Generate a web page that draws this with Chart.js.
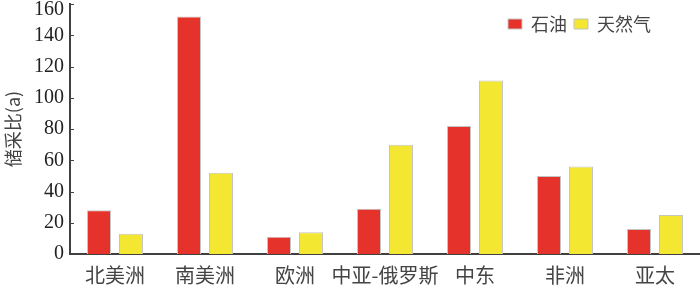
<!DOCTYPE html>
<html>
<head>
<meta charset="utf-8">
<script src="https://cdn.jsdelivr.net/npm/chart.js@4/dist/chart.umd.min.js"></script>
<style>
  body { margin: 0; background: #fff; }
  #wrap { width: 700px; height: 286px; }
</style>
</head>
<body>
<div id="wrap"><canvas id="chart" width="700" height="286"></canvas></div>
<script>
// Reserve / production ratio by region (years)
const regions = ['北美洲', '南美洲', '欧洲', '中亚-俄罗斯', '中东', '非洲', '亚太'];
const oil = [28, 152, 11, 29, 82, 50, 16];
const gas = [13, 52, 14, 70, 111, 56, 25];
const yTicks = [0, 20, 40, 60, 80, 100, 120, 140, 160];

const cjk = '"Noto Sans CJK SC", "Noto Sans", sans-serif';
const serif = '"Liberation Serif", "DejaVu Serif", serif';

// legend floats over the plot (takes no layout height), inner tick marks,
// and the top y label nudged down a bit like in the original
const axisTweaks = {
    id: 'axisTweaks',
    beforeLayout(chart) {
        const lg = chart.legend;
        if (lg && !lg._noHeight) {
            const fit = lg.fit;
            lg.fit = function () {
                fit.call(this);
                this._realHeight = this.height;
                this.height = 0;
            };
            lg._noHeight = true;
        }
    },
    afterLayout(chart) {
        const lg = chart.legend;
        const ca = chart.chartArea;
        if (lg) {
            lg.left = ca.left;
            lg.right = ca.right - 42;
            lg.width = lg.right - lg.left;
            lg.top = ca.top + 4;
            lg.height = lg._realHeight || 32;
            lg.bottom = lg.top + lg.height;
        }
    },
    beforeDraw(chart) {
        const y = chart.scales.y;
        const items = y.getLabelItems(chart.chartArea);
        const last = items[items.length - 1];
        if (last && !last._moved) {
            last.options.translation[1] += 6;
            last._moved = true;
        }
    },
    afterDatasetsDraw(chart) {
        const y = chart.scales.y;
        const ctx = chart.ctx;
        const x0 = chart.chartArea.left;
        ctx.save();
        ctx.strokeStyle = '#444';
        ctx.lineWidth = 1;
        y.ticks.forEach(t => {
            if (t.value === 0) return;
            const py = Math.round(y.getPixelForValue(t.value)) + 0.5;
            ctx.beginPath();
            ctx.moveTo(x0, py);
            ctx.lineTo(x0 + 4, py);
            ctx.stroke();
        });
        ctx.restore();
    }
};

new Chart(document.getElementById('chart'), {
    type: 'bar',
    data: {
        labels: regions,
        datasets: [
            {
                label: '石油',
                data: oil,
                backgroundColor: '#e5322b',
                borderColor: '#c4c4c4',
                borderWidth: 1,
                categoryPercentage: 0.711,
                barPercentage: 0.75
            },
            {
                label: '天然气',
                data: gas,
                backgroundColor: '#f3e731',
                borderColor: '#c4c4c4',
                borderWidth: 1,
                categoryPercentage: 0.711,
                barPercentage: 0.75
            }
        ]
    },
    options: {
        responsive: false,
        animation: false,
        layout: { padding: { top: 4, right: 0, left: 0, bottom: 0 } },
        plugins: {
            legend: {
                position: 'top',
                align: 'end',
                labels: {
                    boxWidth: 14,
                    boxHeight: 10,
                    padding: 7,
                    color: '#444',
                    font: { family: cjk, size: 18 }
                }
            },
            tooltip: { enabled: false }
        },
        scales: {
            x: {
                grid: { display: false, drawTicks: false },
                border: { display: true, color: '#404040', width: 2 },
                ticks: {
                    color: '#444',
                    padding: 9,
                    maxRotation: 0,
                    autoSkip: false,
                    font: { family: cjk, size: 20 }
                },
                afterFit(scale) {
                    scale.height = 32;
                    scale.paddingLeft = 0;
                    scale.paddingRight = 0;
                }
            },
            y: {
                min: 0,
                max: 160,
                afterBuildTicks(scale) {
                    scale.ticks = yTicks.map(v => ({ value: v }));
                },
                grid: { display: false, drawTicks: false },
                border: { display: true, color: '#404040', width: 2 },
                ticks: {
                    color: '#222',
                    padding: 6,
                    font: { family: serif, size: 20 }
                },
                title: {
                    display: true,
                    text: '储采比(a)',
                    color: '#444',
                    padding: { top: 2, bottom: 0 },
                    font: { family: cjk, size: 18 }
                },
                afterFit(scale) {
                    scale.width = 70;
                    scale.paddingTop = 0;
                    scale.paddingBottom = 0;
                }
            }
        }
    },
    plugins: [axisTweaks]
});
</script>
</body>
</html>
